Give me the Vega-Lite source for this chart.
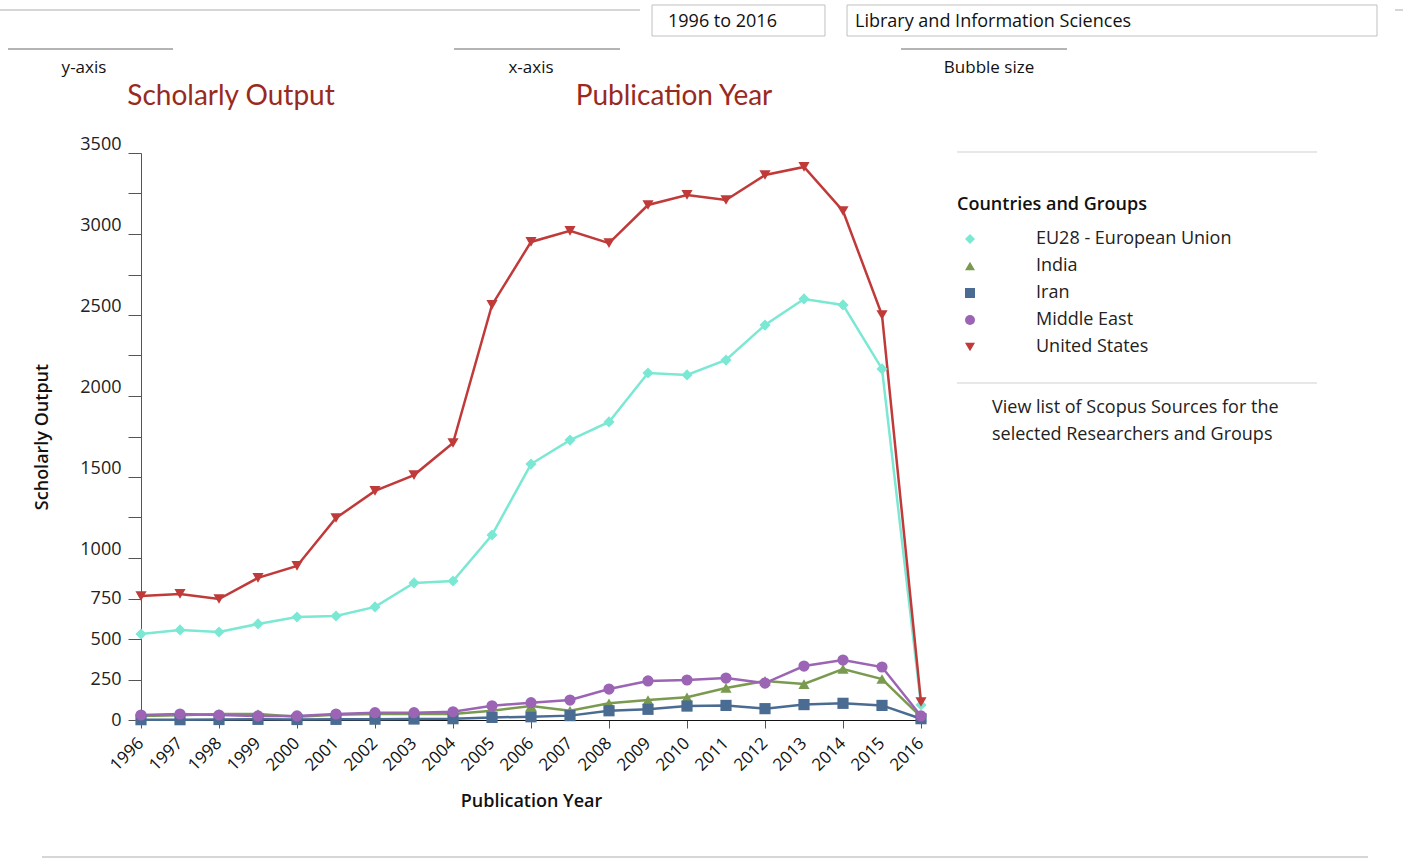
{
  "$schema": "https://vega.github.io/schema/vega-lite/v6.json",
  "width": 780,
  "height": 567,
  "autosize": "none",
  "padding": {"left": 141, "top": 153, "right": 482, "bottom": 140},
  "background": "white",
  "config": {
    "font": "Open Sans",
    "view": {"stroke": null},
    "legend": {
      "orient": "none",
      "legendX": 816,
      "legendY": 43,
      "padding": 0,
      "titleFontSize": 18,
      "titleFontWeight": 600,
      "titleColor": "#111",
      "titleLimit": 400,
      "titlePadding": 16,
      "labelFontSize": 18,
      "labelColor": "#222",
      "labelLimit": 400,
      "labelOffset": 57,
      "symbolOffset": 4,
      "symbolSize": 100,
      "rowPadding": 9,
      "symbolStrokeWidth": 0
    }
  },
  "datasets": {
    "series": [
      {"year": 1996, "group": "EU28 - European Union", "value": 531},
      {"year": 1997, "group": "EU28 - European Union", "value": 556},
      {"year": 1998, "group": "EU28 - European Union", "value": 543},
      {"year": 1999, "group": "EU28 - European Union", "value": 593},
      {"year": 2000, "group": "EU28 - European Union", "value": 636},
      {"year": 2001, "group": "EU28 - European Union", "value": 642},
      {"year": 2002, "group": "EU28 - European Union", "value": 698},
      {"year": 2003, "group": "EU28 - European Union", "value": 846},
      {"year": 2004, "group": "EU28 - European Union", "value": 858},
      {"year": 2005, "group": "EU28 - European Union", "value": 1142},
      {"year": 2006, "group": "EU28 - European Union", "value": 1580},
      {"year": 2007, "group": "EU28 - European Union", "value": 1728},
      {"year": 2008, "group": "EU28 - European Union", "value": 1840},
      {"year": 2009, "group": "EU28 - European Union", "value": 2142},
      {"year": 2010, "group": "EU28 - European Union", "value": 2130},
      {"year": 2011, "group": "EU28 - European Union", "value": 2222},
      {"year": 2012, "group": "EU28 - European Union", "value": 2438},
      {"year": 2013, "group": "EU28 - European Union", "value": 2599},
      {"year": 2014, "group": "EU28 - European Union", "value": 2562},
      {"year": 2015, "group": "EU28 - European Union", "value": 2167},
      {"year": 2016, "group": "EU28 - European Union", "value": 93},
      {"year": 1996, "group": "India", "value": 25},
      {"year": 1997, "group": "India", "value": 29},
      {"year": 1998, "group": "India", "value": 37},
      {"year": 1999, "group": "India", "value": 37},
      {"year": 2000, "group": "India", "value": 20},
      {"year": 2001, "group": "India", "value": 33},
      {"year": 2002, "group": "India", "value": 37},
      {"year": 2003, "group": "India", "value": 37},
      {"year": 2004, "group": "India", "value": 37},
      {"year": 2005, "group": "India", "value": 57},
      {"year": 2006, "group": "India", "value": 86},
      {"year": 2007, "group": "India", "value": 57},
      {"year": 2008, "group": "India", "value": 103},
      {"year": 2009, "group": "India", "value": 123},
      {"year": 2010, "group": "India", "value": 140},
      {"year": 2011, "group": "India", "value": 198},
      {"year": 2012, "group": "India", "value": 241},
      {"year": 2013, "group": "India", "value": 222},
      {"year": 2014, "group": "India", "value": 315},
      {"year": 2015, "group": "India", "value": 253},
      {"year": 2016, "group": "India", "value": 19},
      {"year": 1996, "group": "Iran", "value": 2},
      {"year": 1997, "group": "Iran", "value": 2},
      {"year": 1998, "group": "Iran", "value": 3},
      {"year": 1999, "group": "Iran", "value": 4},
      {"year": 2000, "group": "Iran", "value": 3},
      {"year": 2001, "group": "Iran", "value": 4},
      {"year": 2002, "group": "Iran", "value": 5},
      {"year": 2003, "group": "Iran", "value": 6},
      {"year": 2004, "group": "Iran", "value": 8},
      {"year": 2005, "group": "Iran", "value": 16},
      {"year": 2006, "group": "Iran", "value": 20},
      {"year": 2007, "group": "Iran", "value": 27},
      {"year": 2008, "group": "Iran", "value": 57},
      {"year": 2009, "group": "Iran", "value": 66},
      {"year": 2010, "group": "Iran", "value": 86},
      {"year": 2011, "group": "Iran", "value": 90},
      {"year": 2012, "group": "Iran", "value": 70},
      {"year": 2013, "group": "Iran", "value": 95},
      {"year": 2014, "group": "Iran", "value": 103},
      {"year": 2015, "group": "Iran", "value": 90},
      {"year": 2016, "group": "Iran", "value": 8},
      {"year": 1996, "group": "Middle East", "value": 31},
      {"year": 1997, "group": "Middle East", "value": 37},
      {"year": 1998, "group": "Middle East", "value": 31},
      {"year": 1999, "group": "Middle East", "value": 25},
      {"year": 2000, "group": "Middle East", "value": 25},
      {"year": 2001, "group": "Middle East", "value": 37},
      {"year": 2002, "group": "Middle East", "value": 45},
      {"year": 2003, "group": "Middle East", "value": 45},
      {"year": 2004, "group": "Middle East", "value": 51},
      {"year": 2005, "group": "Middle East", "value": 88},
      {"year": 2006, "group": "Middle East", "value": 107},
      {"year": 2007, "group": "Middle East", "value": 123},
      {"year": 2008, "group": "Middle East", "value": 191},
      {"year": 2009, "group": "Middle East", "value": 241},
      {"year": 2010, "group": "Middle East", "value": 247},
      {"year": 2011, "group": "Middle East", "value": 259},
      {"year": 2012, "group": "Middle East", "value": 228},
      {"year": 2013, "group": "Middle East", "value": 333},
      {"year": 2014, "group": "Middle East", "value": 370},
      {"year": 2015, "group": "Middle East", "value": 327},
      {"year": 2016, "group": "Middle East", "value": 25},
      {"year": 1996, "group": "United States", "value": 765},
      {"year": 1997, "group": "United States", "value": 778},
      {"year": 1998, "group": "United States", "value": 747},
      {"year": 1999, "group": "United States", "value": 877},
      {"year": 2000, "group": "United States", "value": 951},
      {"year": 2001, "group": "United States", "value": 1247},
      {"year": 2002, "group": "United States", "value": 1414},
      {"year": 2003, "group": "United States", "value": 1512},
      {"year": 2004, "group": "United States", "value": 1710},
      {"year": 2005, "group": "United States", "value": 2562},
      {"year": 2006, "group": "United States", "value": 2951},
      {"year": 2007, "group": "United States", "value": 3019},
      {"year": 2008, "group": "United States", "value": 2944},
      {"year": 2009, "group": "United States", "value": 3179},
      {"year": 2010, "group": "United States", "value": 3241},
      {"year": 2011, "group": "United States", "value": 3210},
      {"year": 2012, "group": "United States", "value": 3364},
      {"year": 2013, "group": "United States", "value": 3414},
      {"year": 2014, "group": "United States", "value": 3142},
      {"year": 2015, "group": "United States", "value": 2500},
      {"year": 2016, "group": "United States", "value": 111}
    ],
    "one": [{"n": 1}]
  },
  "layer": [
    {
      "data": {"name": "series"},
      "mark": {"type": "line", "strokeWidth": 2.5, "clip": false},
      "encoding": {
        "x": {
          "field": "year",
          "type": "quantitative",
          "scale": {"domain": [1996, 2016], "nice": false, "zero": false},
          "axis": {
            "title": "Publication Year",
            "values": [1996,1997,1998,1999,2000,2001,2002,2003,2004,2005,2006,2007,2008,2009,2010,2011,2012,2013,2014,2015,2016],
            "format": "d",
            "grid": false,
            "labels": false,
            "tickSize": 8,
            "tickColor": "#555",
            "domainColor": "#111",
            "titleFontSize": 18,
            "titleFontWeight": 600,
            "titleColor": "#111",
            "titlePadding": 64
          }
        },
        "y": {
          "field": "value",
          "type": "quantitative",
          "scale": {"domain": [0, 3500], "nice": false},
          "axis": {
            "title": "Scholarly Output",
            "values": [0,250,500,750,1000,1250,1500,1750,2000,2250,2500,2750,3000,3250,3500],
            "format": "d",
            "labelOverlap": false,
            "labelExpr": "(datum.value < 1000 || datum.value % 500 == 0) ? datum.label : ''",
            "labelBaseline": {"condition": {"test": "datum.value >= 1000", "value": "bottom"}, "value": "middle"},
            "grid": false,
            "labelFontSize": 18,
            "labelColor": "#222",
            "labelPadding": 7,
            "tickSize": 13,
            "tickColor": "#555",
            "domainColor": "#555",
            "titleFontSize": 18,
            "titleFontWeight": 600,
            "titleColor": "#111",
            "titlePadding": 28
          }
        },
        "color": {
          "field": "group",
          "type": "nominal",
          "title": "Countries and Groups",
          "scale": {
            "domain": ["EU28 - European Union", "India", "Iran", "Middle East", "United States"],
            "range": ["#7be8d4", "#7a9a50", "#4a6b92", "#9b64b4", "#c03a3a"]
          }
        }
      }
    },
    {
      "data": {"name": "series"},
      "mark": {"type": "point", "filled": true, "opacity": 1, "size": 125, "clip": false},
      "encoding": {
        "x": {"field": "year", "type": "quantitative"},
        "y": {"field": "value", "type": "quantitative"},
        "color": {
          "field": "group",
          "type": "nominal",
          "title": "Countries and Groups"
        },
        "shape": {
          "field": "group",
          "type": "nominal",
          "title": "Countries and Groups",
          "scale": {
            "domain": ["EU28 - European Union", "India", "Iran", "Middle East", "United States"],
            "range": ["diamond", "triangle-up", "square", "circle", "triangle-down"]
          }
        }
      }
    },
    {
      "data": {"name": "series"},
      "transform": [{"filter": "datum.group === 'Iran'"}],
      "mark": {"type": "text", "angle": -45, "align": "right", "baseline": "middle", "fontSize": 17, "color": "#111"},
      "encoding": {
        "x": {"field": "year", "type": "quantitative"},
        "y": {"datum": -128},
        "text": {"field": "year", "type": "quantitative", "format": "d"}
      }
    },
    {
      "data": {"name": "one"},
      "mark": {"type": "rule", "color": "#c8c8c8", "strokeWidth": 1.5},
      "encoding": {"x": {"datum": 1992.385}, "x2": {"datum": 2008.795}, "y": {"datum": 4382.7}}
    },
    {
      "data": {"name": "one"},
      "mark": {"type": "rule", "color": "#c8c8c8", "strokeWidth": 1.5},
      "encoding": {"x": {"datum": 2028.154}, "x2": {"datum": 2028.359}, "y": {"datum": 4382.7}}
    },
    {
      "data": {"name": "one"},
      "mark": {"type": "rule", "color": "#b4b4b4", "strokeWidth": 2},
      "encoding": {"x": {"datum": 1992.59}, "x2": {"datum": 1996.821}, "y": {"datum": 4141.98}}
    },
    {
      "data": {"name": "one"},
      "mark": {"type": "rule", "color": "#b4b4b4", "strokeWidth": 2},
      "encoding": {"x": {"datum": 2004.026}, "x2": {"datum": 2008.282}, "y": {"datum": 4141.98}}
    },
    {
      "data": {"name": "one"},
      "mark": {"type": "rule", "color": "#b4b4b4", "strokeWidth": 2},
      "encoding": {"x": {"datum": 2015.487}, "x2": {"datum": 2019.744}, "y": {"datum": 4141.98}}
    },
    {
      "data": {"name": "one"},
      "mark": {"type": "rect", "fill": "white", "stroke": "#c0c0c0", "strokeWidth": 1},
      "encoding": {"x": {"datum": 2009.103}, "x2": {"datum": 2013.538}, "y": {"datum": 4413.6}, "y2": {"datum": 4222.2}}
    },
    {
      "data": {"name": "one"},
      "mark": {"type": "rect", "fill": "white", "stroke": "#c0c0c0", "strokeWidth": 1},
      "encoding": {"x": {"datum": 2014.103}, "x2": {"datum": 2027.692}, "y": {"datum": 4413.6}, "y2": {"datum": 4222.2}}
    },
    {
      "data": {"name": "one"},
      "mark": {"type": "text", "text": "1996 to 2016", "align": "left", "baseline": "middle", "fontSize": 18, "color": "#111"},
      "encoding": {"x": {"datum": 2009.513}, "y": {"datum": 4308}}
    },
    {
      "data": {"name": "one"},
      "mark": {"type": "text", "text": "Library and Information Sciences", "align": "left", "baseline": "middle", "fontSize": 18, "color": "#111"},
      "encoding": {"x": {"datum": 2014.308}, "y": {"datum": 4308}}
    },
    {
      "data": {"name": "one"},
      "mark": {"type": "text", "text": "y-axis", "align": "center", "baseline": "middle", "fontSize": 17, "color": "#111"},
      "encoding": {"x": {"datum": 1994.538}, "y": {"datum": 4024}}
    },
    {
      "data": {"name": "one"},
      "mark": {"type": "text", "text": "x-axis", "align": "center", "baseline": "middle", "fontSize": 17, "color": "#111"},
      "encoding": {"x": {"datum": 2006.0}, "y": {"datum": 4024}}
    },
    {
      "data": {"name": "one"},
      "mark": {"type": "text", "text": "Bubble size", "align": "center", "baseline": "middle", "fontSize": 17, "color": "#111"},
      "encoding": {"x": {"datum": 2017.744}, "y": {"datum": 4024}}
    },
    {
      "data": {"name": "one"},
      "mark": {"type": "text", "text": "Scholarly Output", "align": "center", "baseline": "middle", "font": "Lato", "fontSize": 28, "color": "#982a22"},
      "encoding": {"x": {"datum": 1998.308}, "y": {"datum": 3846}}
    },
    {
      "data": {"name": "one"},
      "mark": {"type": "text", "text": "Publication Year", "align": "center", "baseline": "middle", "font": "Lato", "fontSize": 28, "color": "#982a22"},
      "encoding": {"x": {"datum": 2009.667}, "y": {"datum": 3846}}
    },
    {
      "data": {"name": "one"},
      "mark": {"type": "rule", "color": "#d0d0d0", "strokeWidth": 1},
      "encoding": {"x": {"datum": 2016.923}, "x2": {"datum": 2026.154}, "y": {"datum": 3506.2}}
    },
    {
      "data": {"name": "one"},
      "mark": {"type": "rule", "color": "#d0d0d0", "strokeWidth": 1},
      "encoding": {"x": {"datum": 2016.923}, "x2": {"datum": 2026.154}, "y": {"datum": 2080.2}}
    },
    {
      "data": {"name": "one"},
      "mark": {"type": "text", "text": "View list of Scopus Sources for the", "align": "left", "baseline": "middle", "fontSize": 18, "color": "#222"},
      "encoding": {"x": {"datum": 2017.821}, "y": {"datum": 1926}}
    },
    {
      "data": {"name": "one"},
      "mark": {"type": "text", "text": "selected Researchers and Groups", "align": "left", "baseline": "middle", "fontSize": 18, "color": "#222"},
      "encoding": {"x": {"datum": 2017.821}, "y": {"datum": 1759}}
    },
    {
      "data": {"name": "one"},
      "mark": {"type": "rule", "color": "#c8c8c8", "strokeWidth": 1.5},
      "encoding": {"x": {"datum": 1993.462}, "x2": {"datum": 2027.462}, "y": {"datum": -845.7}}
    }
  ]
}
